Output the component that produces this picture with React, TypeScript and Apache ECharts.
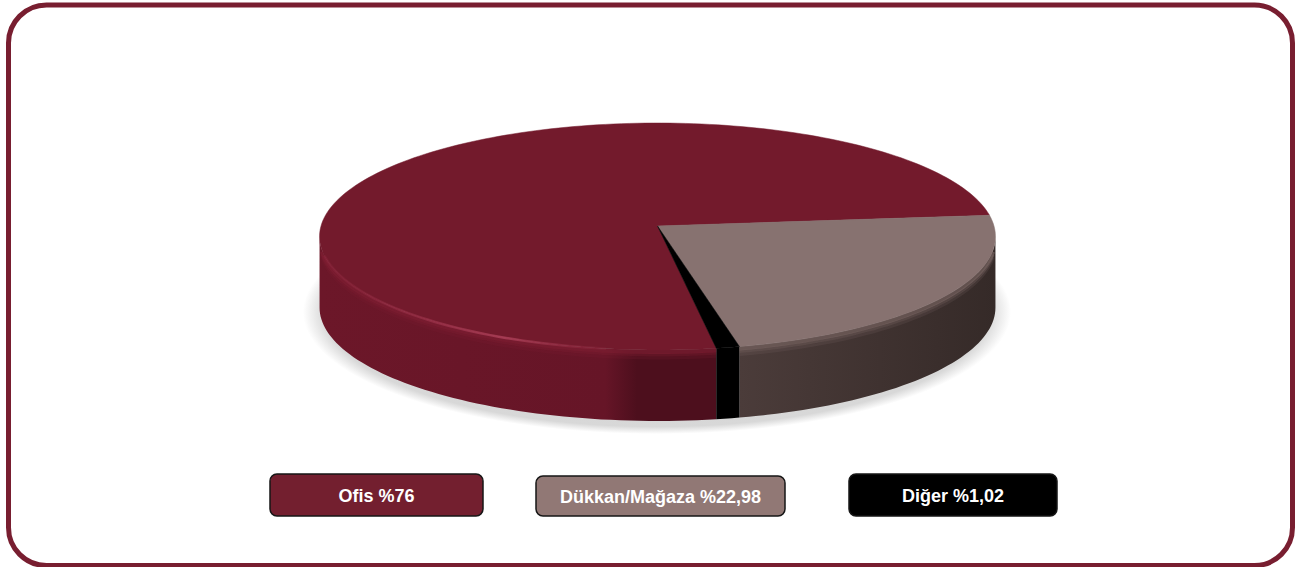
import React, { useEffect, useRef } from "react";
import * as echarts from "echarts";

const names = ["Ofis", "Dükkan/Mağaza", "Diğer"];
const shares = [76, 22.98, 1.02];
const topColors = ["#731a2c", "#877270", "#000000"];
const wallLeft = ["#6c1729", "#4b3c3a", "#000000"];
const wallMid = ["#661527", "#3f3230", "#000000"];
const wallRight = ["#4d0f1d", "#352a28", "#000000"];
const edgeColors = ["#7f1f33", "#7a6663", "#000000"];
const buttonFills = ["#731f2f", "#917875", "#000000"];
const buttonBoxes = [
  [270, 474, 213, 42],
  [536, 476, 249, 40],
  [849, 474, 208, 42],
];

// Projection of the unit disc on to the page: the far side is foreshortened.
const CX = 657.5;
const CY = 226;
const RX = 336.5;
const RY = 112.5;
const TILT = 0.0925;
const DEPTH = 71;
const START_ANGLE = -80.87;
const WALL_FROM = -5.3;
const WALL_TO = -174.7;

const project = (deg: number, r = 1, drop = 0): number[] => {
  const t = (deg * Math.PI) / 180;
  const u = r * Math.cos(t);
  const v = r * Math.sin(t);
  const w = 1 + TILT * v;
  return [CX + (RX * u) / w, CY - (RY * v) / w + drop];
};

const arc = (from: number, to: number, r = 1, drop = 0): number[][] => {
  const steps = Math.max(2, Math.ceil(Math.abs(to - from) / 1.5));
  const pts: number[][] = [];
  for (let i = 0; i <= steps; i++) pts.push(project(from + ((to - from) * i) / steps, r, drop));
  return pts;
};

const total = shares.reduce((a, b) => a + b, 0);

const renderSlice = (params: any, api: any) => {
  const i = params.dataIndex;
  let swept = 0;
  for (let k = 0; k < i; k++) swept += shares[k];
  let from = START_ANGLE - (swept / total) * 360;
  let to = from - (api.value(0) / total) * 360;
  // Slices past the full turn are brought back so the wall range test applies to them.
  if (to < -360) {
    from += 360;
    to += 360;
  }
  const children: any[] = [];

  // Side wall: only the part of the rim that faces the viewer.
  const a = Math.min(from, WALL_FROM);
  const b = Math.max(to, WALL_TO);
  if (a > b) {
    const upper = arc(a, b, 1, 0);
    const lower = arc(a, b, 1, DEPTH).reverse();
    const isMain = i === 0;
    children.push({
      type: "polygon",
      z2: 1,
      shape: { points: upper.concat(lower) },
      style: {
        fill: new echarts.graphic.LinearGradient(
          project(b)[0], 0, project(a)[0], 0,
          [
            { offset: 0, color: wallLeft[i] },
            { offset: isMain ? 0.72 : 0.55, color: wallMid[i] },
            { offset: isMain ? 0.8 : 1, color: wallRight[i] },
            { offset: 1, color: wallRight[i] },
          ],
          true
        ),
        stroke: null,
      },
    });
    // Soft shoulder between the wall and the top face, built from fading bands.
    if (i !== 2) {
      const shoulderEnd = Math.max(b, -168);
      const shoulderStart = Math.min(a, -12);
      [
        { drop: 2, width: 4, opacity: 0.65 },
        { drop: 5, width: 3, opacity: 0.4 },
        { drop: 8, width: 3, opacity: 0.2 },
      ].forEach((band) => {
        children.push({
          type: "polyline",
          z2: 2,
          shape: { points: arc(shoulderStart, shoulderEnd, 1, band.drop) },
          style: { fill: null, stroke: edgeColors[i], lineWidth: band.width, opacity: band.opacity },
        });
      });
    }
  }

  // Top face.
  children.push({
    type: "polygon",
    z2: 3,
    shape: { points: [project(0, 0)].concat(arc(from, to)) },
    style: { fill: topColors[i], stroke: topColors[i], lineWidth: 0.5 },
  });

  // Light catching the front edge of the largest slice.
  if (i === 0) {
    children.push({
      type: "polyline",
      z2: 4,
      shape: { points: arc(-98, -165, 1, 0) },
      style: {
        fill: null,
        lineWidth: 2.5,
        stroke: new echarts.graphic.LinearGradient(
          340, 0, 640, 0,
          [
            { offset: 0, color: "rgba(150,40,65,0.35)" },
            { offset: 0.55, color: "rgba(175,65,90,0.8)" },
            { offset: 1, color: "rgba(150,40,65,0)" },
          ],
          true
        ),
      },
    });
  }
  return { type: "group", children };
};

const formatShare = (v: number) => "%" + String(v).replace(".", ",");

export default function App() {
  const ref = useRef<HTMLDivElement>(null);
  useEffect(() => {
    const chart = echarts.init(ref.current!, null, { renderer: "svg" });
    chart.setOption({
      animation: false,
      backgroundColor: "#ffffff",
      graphic: {
        elements: [
          {
            type: "rect",
            z: 1,
            shape: { x: 8.5, y: 5, width: 1284, height: 560.5, r: 38 },
            style: { fill: "#ffffff", stroke: "#781e30", lineWidth: 5 },
          },
          {
            type: "ellipse",
            z: 2,
            shape: { cx: 657, cy: 312, rx: 354, ry: 122 },
            style: {
              fill: new echarts.graphic.RadialGradient(0.5, 0.5, 0.5, [
                { offset: 0, color: "#c8c8c8" },
                { offset: 0.94, color: "#d8d8d8" },
                { offset: 1, color: "#ffffff" },
              ]),
            },
          },
          ...names.flatMap((name, i) => {
            const [x, y, width, height] = buttonBoxes[i];
            return [
              {
                type: "rect",
                z: 3,
                shape: { x, y, width, height, r: 7 },
                style: { fill: buttonFills[i], stroke: "#161616", lineWidth: 1.5 },
              },
              {
                type: "text",
                z: 4,
                x: x + width / 2,
                y: y + height / 2 + 1,
                style: {
                  text: `${name} ${formatShare(shares[i])}`,
                  fill: "#ffffff",
                  font: "bold 18px 'Liberation Sans', Arial, sans-serif",
                  align: "center",
                  verticalAlign: "middle",
                },
              },
            ];
          }),
        ],
      },
      series: [
        {
          type: "custom",
          coordinateSystem: "none",
          z: 5,
          silent: true,
          renderItem: renderSlice,
          data: shares,
        },
      ],
    });
    return () => chart.dispose();
  }, []);
  return <div ref={ref} style={{ position: "fixed", left: 0, top: 0, width: 1297, height: 567 }} />;
}
